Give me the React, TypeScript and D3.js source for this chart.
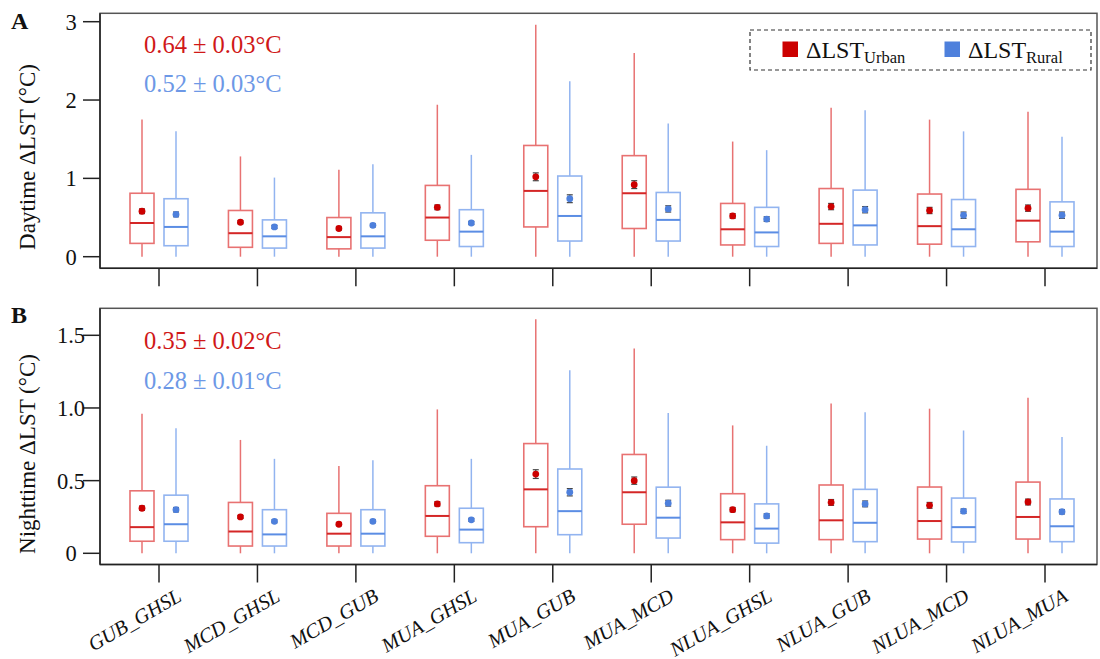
import React from "react";
import * as d3 from "d3";

const categories = ["GUB_GHSL","MCD_GHSL","MCD_GUB","MUA_GHSL","MUA_GUB","MUA_MCD","NLUA_GHSL","NLUA_GUB","NLUA_MCD","NLUA_MUA"];

// Daytime ΔLST (°C)
const dayUrbanHi = [1.75, 1.28, 1.11, 1.94, 2.96, 2.60, 1.47, 1.90, 1.75, 1.85];
const dayUrbanQ3 = [0.81, 0.59, 0.50, 0.91, 1.42, 1.29, 0.68, 0.87, 0.80, 0.86];
const dayUrbanMed = [0.43, 0.30, 0.25, 0.50, 0.84, 0.81, 0.35, 0.42, 0.39, 0.46];
const dayUrbanQ1 = [0.17, 0.12, 0.10, 0.21, 0.38, 0.36, 0.15, 0.17, 0.16, 0.19];
const dayUrbanLo = [0, 0, 0, 0, 0, 0, 0, 0, 0, 0];
const dayUrbanMean = [0.58, 0.44, 0.36, 0.63, 1.02, 0.92, 0.52, 0.64, 0.59, 0.62];
const dayUrbanErr = [0.03, 0.02, 0.02, 0.03, 0.05, 0.05, 0.03, 0.04, 0.04, 0.04];

const dayRuralHi = [1.60, 1.01, 1.18, 1.30, 2.24, 1.70, 1.36, 1.87, 1.60, 1.53];
const dayRuralQ3 = [0.74, 0.47, 0.56, 0.60, 1.03, 0.82, 0.63, 0.85, 0.73, 0.70];
const dayRuralMed = [0.38, 0.26, 0.26, 0.32, 0.52, 0.47, 0.31, 0.40, 0.35, 0.32];
const dayRuralQ1 = [0.14, 0.11, 0.11, 0.13, 0.20, 0.20, 0.13, 0.15, 0.13, 0.13];
const dayRuralLo = [0, 0, 0, 0, 0, 0, 0, 0, 0, 0];
const dayRuralMean = [0.54, 0.38, 0.40, 0.43, 0.74, 0.61, 0.48, 0.60, 0.53, 0.53];
const dayRuralErr = [0.03, 0.02, 0.02, 0.02, 0.05, 0.04, 0.03, 0.04, 0.04, 0.04];

// Nighttime ΔLST (°C)
const nightUrbanHi = [0.96, 0.78, 0.60, 0.99, 1.61, 1.41, 0.88, 1.03, 0.995, 1.07];
const nightUrbanQ3 = [0.43, 0.35, 0.275, 0.465, 0.755, 0.68, 0.41, 0.47, 0.456, 0.49];
const nightUrbanMed = [0.18, 0.15, 0.135, 0.257, 0.44, 0.42, 0.213, 0.227, 0.222, 0.25];
const nightUrbanQ1 = [0.083, 0.05, 0.05, 0.117, 0.183, 0.20, 0.094, 0.094, 0.098, 0.098];
const nightUrbanLo = [0, 0, 0, 0, 0, 0, 0, 0, 0, 0];
const nightUrbanMean = [0.31, 0.25, 0.20, 0.34, 0.545, 0.50, 0.30, 0.35, 0.33, 0.353];
const nightUrbanErr = [0.015, 0.01, 0.01, 0.015, 0.03, 0.025, 0.015, 0.02, 0.02, 0.02];

const nightRuralHi = [0.86, 0.65, 0.64, 0.65, 1.26, 0.965, 0.74, 0.97, 0.845, 0.80];
const nightRuralQ3 = [0.40, 0.30, 0.30, 0.31, 0.58, 0.455, 0.34, 0.44, 0.38, 0.374];
const nightRuralMed = [0.20, 0.13, 0.135, 0.163, 0.29, 0.245, 0.17, 0.21, 0.18, 0.186];
const nightRuralQ1 = [0.083, 0.05, 0.05, 0.073, 0.128, 0.105, 0.07, 0.08, 0.078, 0.08];
const nightRuralLo = [0, 0, 0, 0, 0, 0, 0, 0, 0, 0];
const nightRuralMean = [0.30, 0.22, 0.22, 0.23, 0.42, 0.345, 0.257, 0.34, 0.29, 0.286];
const nightRuralErr = [0.015, 0.01, 0.01, 0.01, 0.025, 0.02, 0.015, 0.02, 0.015, 0.015];

const dayTicks = [0, 1, 2, 3];
const dayTickLabels = ["0", "1", "2", "3"];
const nightTicks = [0, 0.5, 1.0, 1.5];
const nightTickLabels = ["0", "0.5", "1.0", "1.5"];

const dayAnnot = ["0.64 ± 0.03°C", "0.52 ± 0.03°C"];
const nightAnnot = ["0.35 ± 0.02°C", "0.28 ± 0.01°C"];

const FONT = "'Liberation Serif', 'Times New Roman', serif";
const RED = { box: "#e87272", med: "#d42626", dot: "#cc0000", text: "#d01818" };
const BLUE = { box: "#92b4f0", med: "#5b8de4", dot: "#4e80dc", text: "#6d98e6" };

type Series = { hi: number[]; q3: number[]; med: number[]; q1: number[]; lo: number[]; mean: number[]; err: number[] };

const X0 = 100, X1 = 1097;
const x = d3.scalePoint<string>().domain(categories).range([159, 1045]);
const OFF = 17, BW = 24;

function Boxes({ s, y, dx, c }: { s: Series; y: d3.ScaleLinear<number, number>; dx: number; c: typeof RED }) {
  return (
    <g>
      {categories.map((cat, i) => {
        const cx = (x(cat) as number) + dx;
        const cap = 3;
        return (
          <g key={cat}>
            <line x1={cx} x2={cx} y1={y(s.q3[i])} y2={y(s.hi[i])} stroke={c.box} strokeWidth={1.5} />
            <line x1={cx} x2={cx} y1={y(s.q1[i])} y2={y(s.lo[i])} stroke={c.box} strokeWidth={1.5} />
            <rect x={cx - BW / 2} y={y(s.q3[i])} width={BW} height={y(s.q1[i]) - y(s.q3[i])} fill="none" stroke={c.box} strokeWidth={1.6} />
            <line x1={cx - BW / 2} x2={cx + BW / 2} y1={y(s.med[i])} y2={y(s.med[i])} stroke={c.med} strokeWidth={2} />
            <line x1={cx} x2={cx} y1={y(s.mean[i] - s.err[i])} y2={y(s.mean[i] + s.err[i])} stroke="#444" strokeWidth={1.2} />
            <line x1={cx - cap} x2={cx + cap} y1={y(s.mean[i] - s.err[i])} y2={y(s.mean[i] - s.err[i])} stroke="#444" strokeWidth={1.2} />
            <line x1={cx - cap} x2={cx + cap} y1={y(s.mean[i] + s.err[i])} y2={y(s.mean[i] + s.err[i])} stroke="#444" strokeWidth={1.2} />
            <circle cx={cx} cy={y(s.mean[i])} r={3.4} fill={c.dot} />
          </g>
        );
      })}
    </g>
  );
}

function Panel({ top, bottom, y, ticks, tickLabels, urban, rural, annot, annotY, title, titleY, letter, letterY }: any) {
  return (
    <g>
      <rect x={X0} y={top} width={X1 - X0} height={bottom - top} fill="none" stroke="#555" strokeWidth={1.5} />
      <line x1={X0} x2={X0} y1={top} y2={bottom} stroke="#222" strokeWidth={1.5} />
      <line x1={X0} x2={X1} y1={bottom} y2={bottom} stroke="#222" strokeWidth={1.5} />
      {ticks.map((t: number, i: number) => (
        <g key={i}>
          <line x1={83} x2={X0} y1={y(t)} y2={y(t)} stroke="#222" strokeWidth={1.5} />
          <text x={71} y={y(t)} dy="0.35em" textAnchor="middle" fontSize={22.5} fontFamily={FONT} fill="#111">{tickLabels[i]}</text>
        </g>
      ))}
      {categories.map((cat) => (
        <line key={cat} x1={x(cat)} x2={x(cat)} y1={bottom} y2={bottom + 18} stroke="#222" strokeWidth={1.5} />
      ))}
      <Boxes s={urban} y={y} dx={-OFF} c={RED} />
      <Boxes s={rural} y={y} dx={OFF} c={BLUE} />
      <text x={144} y={annotY[0]} fontSize={24.5} fontFamily={FONT} fill={RED.text}>{annot[0]}</text>
      <text x={144} y={annotY[1]} fontSize={24.5} fontFamily={FONT} fill={BLUE.text}>{annot[1]}</text>
      <text transform={`translate(35,${titleY}) rotate(-90)`} textAnchor="middle" fontSize={23} fontFamily={FONT} fill="#111">{title}</text>
      <text x={11} y={letterY} fontSize={24} fontWeight="bold" fontFamily={FONT} fill="#111">{letter}</text>
    </g>
  );
}

export default function App() {
  const yDay = d3.scaleLinear().domain([0, 3]).range([256.7, 21.7]);
  const yNight = d3.scaleLinear().domain([0, 1.5]).range([553.3, 335.3]);
  const dayU: Series = { hi: dayUrbanHi, q3: dayUrbanQ3, med: dayUrbanMed, q1: dayUrbanQ1, lo: dayUrbanLo, mean: dayUrbanMean, err: dayUrbanErr };
  const dayR: Series = { hi: dayRuralHi, q3: dayRuralQ3, med: dayRuralMed, q1: dayRuralQ1, lo: dayRuralLo, mean: dayRuralMean, err: dayRuralErr };
  const nightU: Series = { hi: nightUrbanHi, q3: nightUrbanQ3, med: nightUrbanMed, q1: nightUrbanQ1, lo: nightUrbanLo, mean: nightUrbanMean, err: nightUrbanErr };
  const nightR: Series = { hi: nightRuralHi, q3: nightRuralQ3, med: nightRuralMed, q1: nightRuralQ1, lo: nightRuralLo, mean: nightRuralMean, err: nightRuralErr };

  return (
    <svg width={1100} height={659} style={{ position: "absolute", left: 0, top: 0, background: "#fff" }}>
      <Panel top={13.3} bottom={268.3} y={yDay} ticks={dayTicks} tickLabels={dayTickLabels} urban={dayU} rural={dayR}
        annot={dayAnnot} annotY={[52.5, 91.5]} title="Daytime ΔLST (°C)" titleY={157} letter="A" letterY={29} />
      <Panel top={308.3} bottom={564.5} y={yNight} ticks={nightTicks} tickLabels={nightTickLabels} urban={nightU} rural={nightR}
        annot={nightAnnot} annotY={[348.5, 388.5]} title="Nighttime ΔLST (°C)" titleY={454} letter="B" letterY={322.5} />
      {/* Legend */}
      <rect x={750} y={30} width={341} height={40} fill="#fff" stroke="#333" strokeWidth={1.2} strokeDasharray="4,3" />
      <rect x={782.5} y={41.5} width={15.5} height={15.5} fill={RED.dot} />
      <text x={806} y={57.5} fontSize={24} fontFamily={FONT} fill="#111">ΔLST<tspan fontSize={16.5} dy={5.5}>Urban</tspan></text>
      <rect x={944.5} y={41.5} width={15.5} height={15.5} fill={BLUE.dot} />
      <text x={968} y={57.5} fontSize={24} fontFamily={FONT} fill="#111">ΔLST<tspan fontSize={16.5} dy={5.5}>Rural</tspan></text>
      {/* x labels */}
      {categories.map((cat) => (
        <text key={cat} transform={`translate(${(x(cat) as number) + 24},${600}) rotate(-30)`} textAnchor="end"
          fontSize={20.5} fontStyle="italic" fontFamily={FONT} fill="#111">{cat}</text>
      ))}
    </svg>
  );
}
